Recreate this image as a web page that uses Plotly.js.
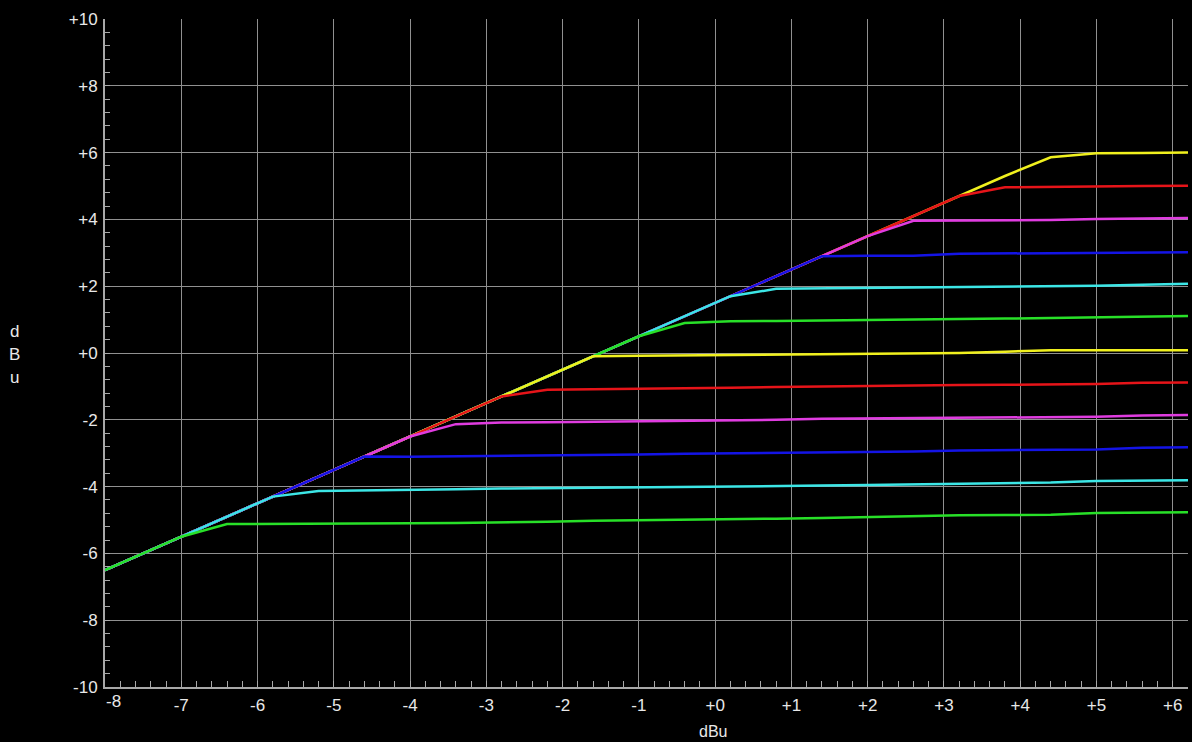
<!DOCTYPE html>
<html>
<head>
<meta charset="utf-8">
<script src="https://cdn.plot.ly/plotly-3.0.1.min.js"></script>
<style>
html,body{margin:0;padding:0;background:#000;}
#chart{width:1192px;height:742px;}
</style>
</head>
<body>
<div id="chart"></div>
<script>
// Input level (dBu)
const inputLevel = [-8.0, -7.6, -7.0, -6.4, -5.8, -5.2, -4.6, -4.0, -3.4, -2.8, -2.2, -1.6, -1.0, -0.4, 0.2, 0.8, 1.4, 2.0, 2.6, 3.2, 3.8, 4.4, 5.0, 5.6, 6.2];

// Output level (dBu) for each limiter threshold
const outP6 = [-6.5,-6.1,-5.5,-4.9,-4.3,-3.7,-3.1,-2.5,-1.9,-1.3,-0.7,-0.1,0.5,1.1,1.7,2.3,2.9,3.5,4.1,4.7,5.3,5.86,5.98,5.99,6.0];
const outP5 = [-6.5,-6.1,-5.5,-4.9,-4.3,-3.7,-3.1,-2.5,-1.9,-1.3,-0.7,-0.1,0.5,1.1,1.7,2.3,2.9,3.5,4.1,4.7,4.96,4.98,4.99,5.0,5.01];
const outP4 = [-6.5,-6.1,-5.5,-4.9,-4.3,-3.7,-3.1,-2.5,-1.9,-1.3,-0.7,-0.1,0.5,1.1,1.7,2.3,2.9,3.5,3.96,3.96,3.97,3.98,4.01,4.03,4.04];
const outP3 = [-6.5,-6.1,-5.5,-4.9,-4.3,-3.7,-3.1,-2.5,-1.9,-1.3,-0.7,-0.1,0.5,1.1,1.7,2.3,2.9,2.91,2.91,2.97,2.98,2.98,2.99,3.01,3.02];
const outP2 = [-6.5,-6.1,-5.5,-4.9,-4.3,-3.7,-3.1,-2.5,-1.9,-1.3,-0.7,-0.1,0.5,1.1,1.7,1.92,1.93,1.94,1.95,1.96,1.98,1.99,2.01,2.04,2.07];
const outP1 = [-6.5,-6.1,-5.5,-4.9,-4.3,-3.7,-3.1,-2.5,-1.9,-1.3,-0.7,-0.1,0.5,0.90,0.95,0.96,0.97,0.98,1.00,1.01,1.03,1.05,1.07,1.09,1.11];
const out0  = [-6.5,-6.1,-5.5,-4.9,-4.3,-3.7,-3.1,-2.5,-1.9,-1.3,-0.7,-0.1,-0.08,-0.07,-0.04,-0.03,-0.02,-0.01,0.00,0.00,0.04,0.08,0.08,0.08,0.08];
const outM1 = [-6.5,-6.1,-5.5,-4.9,-4.3,-3.7,-3.1,-2.5,-1.9,-1.3,-1.10,-1.09,-1.07,-1.05,-1.04,-1.02,-1.00,-0.99,-0.97,-0.96,-0.95,-0.94,-0.93,-0.89,-0.88];
const outM2 = [-6.5,-6.1,-5.5,-4.9,-4.3,-3.7,-3.1,-2.5,-2.13,-2.08,-2.07,-2.06,-2.05,-2.04,-2.03,-2.00,-1.97,-1.96,-1.95,-1.93,-1.92,-1.92,-1.91,-1.87,-1.86];
const outM3 = [-6.5,-6.1,-5.5,-4.9,-4.3,-3.7,-3.1,-3.11,-3.10,-3.07,-3.06,-3.05,-3.04,-3.02,-3.01,-3.00,-2.98,-2.96,-2.95,-2.92,-2.91,-2.90,-2.89,-2.84,-2.82];
const outM4 = [-6.5,-6.1,-5.5,-4.9,-4.3,-4.13,-4.12,-4.10,-4.08,-4.06,-4.05,-4.04,-4.03,-4.02,-4.00,-3.98,-3.97,-3.95,-3.93,-3.91,-3.90,-3.88,-3.83,-3.82,-3.81];
const outM5 = [-6.5,-6.1,-5.5,-5.12,-5.12,-5.12,-5.11,-5.10,-5.09,-5.08,-5.05,-5.02,-5.01,-5.00,-4.97,-4.96,-4.94,-4.91,-4.90,-4.86,-4.85,-4.84,-4.79,-4.78,-4.77];

const seriesNames = ['+6','+5','+4','+3','+2','+1','0','-1','-2','-3','-4','-5'];
const seriesValues = [outP6,outP5,outP4,outP3,outP2,outP1,out0,outM1,outM2,outM3,outM4,outM5];
const seriesColors = ['#f0f01e','#e61419','#e03ce0','#1414e6','#3ce6e6','#28e028','#f0f01e','#e61419','#e03ce0','#1414e6','#3ce6e6','#28e028'];

// Tick labels
const xTickVals = [-8,-7,-6,-5,-4,-3,-2,-1,0,1,2,3,4,5,6];
const xTickText = ['','-7','-6','-5','-4','-3','-2','-1','+0','+1','+2','+3','+4','+5','+6'];
const yTickVals = [-10,-8,-6,-4,-2,0,2,4,6,8,10];
const yTickText = ['-10','-8','-6','-4','-2','+0','+2','+4','+6','+8','+10'];
const yTitleLetters = ['d','B','u'];

const traces = seriesValues.map((vals, i) => ({
  type: 'scatter',
  mode: 'lines',
  name: seriesNames[i],
  x: inputLevel,
  y: vals,
  line: {color: seriesColors[i], width: 2.5},
  hoverinfo: 'x+y+name'
}));

const fontFam = 'Arial, "Liberation Sans", sans-serif';
const txtCol = '#e8e8e8';
const gridCol = '#909090';
const axCol = '#a8a8a8';
const tickFont = {family: fontFam, size: 17, color: txtCol};
const titleFont = {family: fontFam, size: 16, color: txtCol};

const annotations = [
  {text: '-8', xref: 'x', yref: 'paper', x: -8, y: 0, xanchor: 'center', yanchor: 'top', xshift: 8, yshift: -3, showarrow: false, font: tickFont},
  {text: 'dBu', xref: 'paper', yref: 'paper', x: 0.5615, y: 0, yshift: -34, xanchor: 'center', yanchor: 'top', showarrow: false, font: titleFont}
];
yTitleLetters.forEach((ch, i) => {
  annotations.push({text: ch, xref: 'paper', yref: 'paper', x: 0, xshift: -91, y: 0.532, yshift: -23 * i,
    xanchor: 'center', yanchor: 'middle', showarrow: false, font: tickFont});
});

const layout = {
  width: 1192, height: 742,
  paper_bgcolor: '#000', plot_bgcolor: '#000',
  margin: {l: 105, r: 4, t: 19, b: 55},
  showlegend: false,
  font: tickFont,
  xaxis: {
    range: [-8, 6.2],
    tickvals: xTickVals, ticktext: xTickText,
    showgrid: true, gridcolor: gridCol, gridwidth: 1,
    zeroline: false,
    showline: true, linecolor: axCol, linewidth: 2,
    ticks: 'inside', ticklen: 6, tickcolor: axCol, tickwidth: 1,
    ticklabelstandoff: 2,
    minor: {dtick: 0.2, tick0: -8, ticks: 'inside', ticklen: 6, tickcolor: axCol, tickwidth: 1, showgrid: false},
    tickfont: tickFont,
    fixedrange: true
  },
  yaxis: {
    range: [-10, 10],
    tickvals: yTickVals, ticktext: yTickText,
    showgrid: true, gridcolor: gridCol, gridwidth: 1,
    zeroline: false,
    showline: true, linecolor: axCol, linewidth: 2,
    ticks: 'inside', ticklen: 5, tickcolor: axCol, tickwidth: 1,
    ticklabelstandoff: 2,
    minor: {dtick: 0.4, tick0: -10, ticks: 'inside', ticklen: 5, tickcolor: axCol, tickwidth: 1, showgrid: false},
    tickfont: tickFont,
    fixedrange: true
  },
  annotations: annotations
};

Plotly.newPlot('chart', traces, layout, {displayModeBar: false, staticPlot: true});
</script>
</body>
</html>
